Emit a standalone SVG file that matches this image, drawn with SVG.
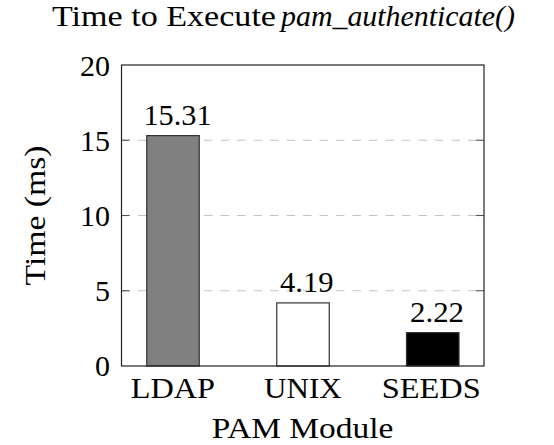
<svg xmlns="http://www.w3.org/2000/svg" width="554" height="445" viewBox="0 0 554 445">
  <style>
    .tick-label { text-anchor: end; }
    .grid { stroke: #c4c4c4; stroke-width: 1.1; stroke-dasharray: 8.5 8; fill: none; }
    .tick { stroke: #555; stroke-width: 1.1; }
    .frame { fill: none; stroke: #222; stroke-width: 1.2; }
    .bar { stroke: #333; stroke-width: 1.2; }
  </style>

  <rect width="554" height="445" fill="#fff"/>

  <!-- title -->
  <g id="title" font-family="Liberation Serif" font-size="30" fill="#000">
    <text x="52" y="26" textLength="224" lengthAdjust="spacingAndGlyphs">Time to Execute</text>
    <text x="281" y="26" font-style="italic" textLength="234" lengthAdjust="spacingAndGlyphs">pam_authenticate()</text>
  </g>

  <!-- horizontal grid lines at 5, 10, 15 ms -->
  <g id="grid">
    <line class="grid" x1="121.5" y1="290.75" x2="484" y2="290.75"/>
    <line class="grid" x1="121.5" y1="215.5" x2="484" y2="215.5"/>
    <line class="grid" x1="121.5" y1="140.25" x2="484" y2="140.25"/>
  </g>

  <!-- bars with value labels -->
  <g id="bar-ldap" font-family="Liberation Serif" font-size="30">
    <rect class="bar" x="146.75" y="135.6" width="52.5" height="230.4" fill="#808080"/>
    <text x="143.5" y="125" textLength="68" lengthAdjust="spacingAndGlyphs">15.31</text>
  </g>
  <g id="bar-unix" font-family="Liberation Serif" font-size="30">
    <rect class="bar" x="276.75" y="302.9" width="52.5" height="63.1" fill="#fff"/>
    <text x="280" y="291.7" textLength="53.5" lengthAdjust="spacingAndGlyphs">4.19</text>
  </g>
  <g id="bar-seeds" font-family="Liberation Serif" font-size="30">
    <rect class="bar" x="406.5" y="332.6" width="52.5" height="33.4" fill="#000"/>
    <text x="410" y="321.7" textLength="54" lengthAdjust="spacingAndGlyphs">2.22</text>
  </g>

  <!-- axis frame and ticks -->
  <g id="axis">
    <g class="tick">
      <line x1="121.5" y1="290.75" x2="129.5" y2="290.75"/>
      <line x1="121.5" y1="215.5" x2="129.5" y2="215.5"/>
      <line x1="121.5" y1="140.25" x2="129.5" y2="140.25"/>
      <line x1="476" y1="290.75" x2="484" y2="290.75"/>
      <line x1="476" y1="215.5" x2="484" y2="215.5"/>
      <line x1="476" y1="140.25" x2="484" y2="140.25"/>
    </g>
    <rect class="frame" x="121.5" y="65" width="362.5" height="301"/>
  </g>

  <!-- y tick labels -->
  <g id="y-ticks" font-family="Liberation Serif" font-size="30">
    <text class="tick-label" x="110" y="376">0</text>
    <text class="tick-label" x="110" y="301">5</text>
    <text class="tick-label" x="110" y="226">10</text>
    <text class="tick-label" x="110" y="150.5">15</text>
    <text class="tick-label" x="110" y="75.5">20</text>
  </g>

  <!-- x tick labels -->
  <g id="x-ticks" font-family="Liberation Serif" font-size="30">
    <text x="130.7" y="398.3" textLength="84.3" lengthAdjust="spacingAndGlyphs">LDAP</text>
    <text x="264" y="398.3" textLength="77.7" lengthAdjust="spacingAndGlyphs">UNIX</text>
    <text x="381.7" y="398.3" textLength="99" lengthAdjust="spacingAndGlyphs">SEEDS</text>
  </g>

  <!-- axis labels -->
  <g id="x-label" font-family="Liberation Serif" font-size="30">
    <text x="211.7" y="438.3" textLength="181.6" lengthAdjust="spacingAndGlyphs">PAM Module</text>
  </g>
  <g id="y-label" font-family="Liberation Serif" font-size="30">
    <text transform="translate(45 285.5) rotate(-90)" x="0" y="0" textLength="140" lengthAdjust="spacingAndGlyphs">Time (ms)</text>
  </g>
</svg>
